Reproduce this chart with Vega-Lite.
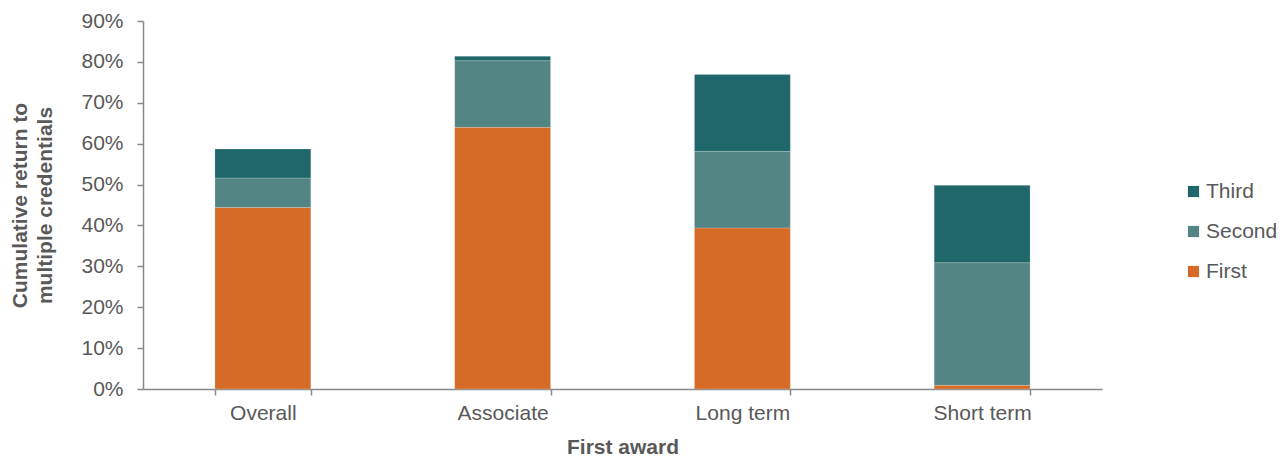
{
  "$schema": "https://vega.github.io/schema/vega-lite/v6.json",
  "width": 959,
  "height": 368,
  "autosize": "none",
  "padding": {"left": 143, "top": 21, "right": 183, "bottom": 69},
  "background": "white",
  "config": {
    "view": {"stroke": null},
    "font": "Liberation Sans"
  },
  "data": {
    "values": [
      {"award": "Overall", "level": "First", "order": 1, "share": 0.444},
      {"award": "Overall", "level": "Second", "order": 2, "share": 0.072},
      {"award": "Overall", "level": "Third", "order": 3, "share": 0.071},
      {"award": "Associate", "level": "First", "order": 1, "share": 0.640},
      {"award": "Associate", "level": "Second", "order": 2, "share": 0.163},
      {"award": "Associate", "level": "Third", "order": 3, "share": 0.011},
      {"award": "Long term", "level": "First", "order": 1, "share": 0.394},
      {"award": "Long term", "level": "Second", "order": 2, "share": 0.187},
      {"award": "Long term", "level": "Third", "order": 3, "share": 0.188},
      {"award": "Short term", "level": "First", "order": 1, "share": 0.009},
      {"award": "Short term", "level": "Second", "order": 2, "share": 0.300},
      {"award": "Short term", "level": "Third", "order": 3, "share": 0.189}
    ]
  },
  "mark": {"type": "bar", "stroke": "#ffffff", "strokeOpacity": 0.35, "strokeWidth": 0.6},
  "encoding": {
    "x": {
      "field": "award",
      "type": "nominal",
      "sort": ["Overall", "Associate", "Long term", "Short term"],
      "scale": {"paddingInner": 0.6, "paddingOuter": 0.3},
      "axis": {
        "title": "First award",
        "titleFont": "Liberation Sans",
        "titleFontSize": 21,
        "titleFontWeight": "bold",
        "titleColor": "#595959",
        "titlePadding": 13,
        "labelAngle": 0,
        "labelFont": "Liberation Sans",
        "labelFontSize": 21,
        "labelColor": "#595959",
        "labelPadding": 7,
        "tickBand": "extent",
        "tickSize": 6,
        "tickColor": "#898989",
        "tickWidth": 1.5,
        "domainColor": "#898989",
        "domainWidth": 1.5
      }
    },
    "y": {
      "field": "share",
      "type": "quantitative",
      "stack": "zero",
      "scale": {"domain": [0, 0.9], "nice": false},
      "axis": {
        "title": ["Cumulative return to", "multiple credentials"],
        "titleFont": "Liberation Sans",
        "titleFontSize": 21,
        "titleFontWeight": "bold",
        "titleColor": "#595959",
        "titleLineHeight": 25,
        "titlePadding": 25,
        "format": ".0%",
        "values": [0, 0.1, 0.2, 0.3, 0.4, 0.5, 0.6, 0.7, 0.8, 0.9],
        "labelFont": "Liberation Sans",
        "labelFontSize": 21,
        "labelColor": "#595959",
        "labelPadding": 14,
        "grid": false,
        "tickSize": 6,
        "tickColor": "#898989",
        "tickWidth": 1.5,
        "domainColor": "#898989",
        "domainWidth": 1.5
      }
    },
    "color": {
      "field": "level",
      "type": "nominal",
      "sort": ["Third", "Second", "First"],
      "scale": {
        "domain": ["Third", "Second", "First"],
        "range": ["#1f676a", "#528583", "#d66a27"]
      },
      "legend": {
        "title": null,
        "orient": "none",
        "legendX": 1040,
        "legendY": 160,
        "symbolType": "square",
        "symbolSize": 125,
        "symbolStrokeWidth": 0,
        "labelFont": "Liberation Sans",
        "labelFontSize": 21,
        "labelColor": "#595959",
        "labelOffset": 2,
        "rowPadding": 18
      }
    },
    "order": {"field": "order", "type": "quantitative"}
  }
}
